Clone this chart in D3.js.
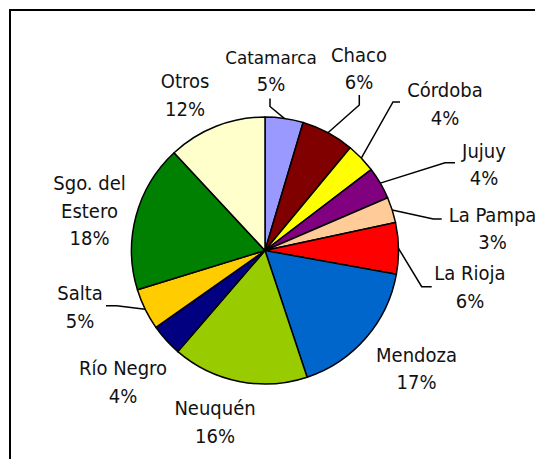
<!DOCTYPE html>
<html>
<head>
<meta charset="utf-8">
<script src="https://cdn.jsdelivr.net/npm/d3@7"></script>
<style>
  html, body { margin: 0; padding: 0; background: #fff; }
  svg { display: block; }
</style>
</head>
<body>
<svg id="chart" width="535" height="459"></svg>
<script>
// ---- data ----
const categories = ["Catamarca", "Chaco", "Córdoba", "Jujuy", "La Pampa", "La Rioja",
  "Mendoza", "Neuquén", "Río Negro", "Salta", "Sgo. del\nEstero", "Otros"];
const values = [4.6, 6.4, 3.6, 3.9, 3.1, 6.2, 17.0, 16.4, 3.9, 5.0, 17.8, 11.9];
const colors = ["#9999FF", "#800000", "#FFFF00", "#800080", "#FFCC99", "#FF0000",
  "#0066CC", "#99CC00", "#000080", "#FFCC00", "#008000", "#FFFFCC"];

// ---- layout (label anchor: centre x, first baseline y; leader points on label side) ----
const labelLayout = [
  { x: 271, y: 63.5, small: true, leader: [[270, 98.5], [270, 106.5]] },
  { x: 359, y: 61.7, leader: [[359.3, 95], [359.3, 105]] },
  { x: 445, y: 97.3, leader: [[400, 102], [393, 102]] },
  { x: 484, y: 157.5, leader: [[455, 162.7], [445, 162.7]] },
  { x: 492.5, y: 221.7, leader: [[441.7, 219], [433.3, 219]] },
  { x: 470, y: 280, leader: [[431.7, 286.7], [421.7, 286.7]] },
  { x: 416.5, y: 361.7 },
  { x: 215, y: 415 },
  { x: 123, y: 375 },
  { x: 80, y: 300, leader: [[106, 305.7], [116.7, 305.7]] },
  { x: 89.5, y: 190 },
  { x: 185, y: 88.3 }
];

const W = 535, H = 459;
const cx = 265, cy = 250.5, R = 133.5;
const lineH = 27.7;
const font = "'DejaVu Sans Condensed', 'DejaVu Sans', sans-serif";

const svg = d3.select("#chart");

// frame
svg.append("rect")
  .attr("x", 10).attr("y", 10)
  .attr("width", 700).attr("height", 700)
  .attr("fill", "none").attr("stroke", "#000").attr("stroke-width", 2);

const total = d3.sum(values);
const pie = d3.pie().sort(null).value(d => d)(values);
const arc = d3.arc().innerRadius(0).outerRadius(R);

const g = svg.append("g").attr("transform", `translate(${cx},${cy})`);

g.selectAll("path.slice")
  .data(pie)
  .join("path")
  .attr("class", "slice")
  .attr("d", arc)
  .attr("fill", (d, i) => colors[i])
  .attr("stroke", "#000")
  .attr("stroke-width", 1.5)
  .attr("stroke-linejoin", "round");

// leaders
pie.forEach((d, i) => {
  const L = labelLayout[i];
  if (!L.leader) return;
  const mid = (d.startAngle + d.endAngle) / 2;
  const ex = cx + R * Math.sin(mid), ey = cy - R * Math.cos(mid);
  const pts = L.leader.concat([[ex, ey]]);
  svg.append("path")
    .attr("d", d3.line()(pts))
    .attr("fill", "none")
    .attr("stroke", "#000")
    .attr("stroke-width", 1.5);
});

// labels
pie.forEach((d, i) => {
  const L = labelLayout[i];
  const nameLines = categories[i].split("\n");
  const pct = Math.round(values[i] / total * 100) + "%";
  const t = svg.append("text")
    .attr("text-anchor", "middle")
    .attr("fill", "#111")
    .attr("font-family", font)
    .attr("font-size", 20);
  nameLines.forEach((ln, k) => {
    const ts = t.append("tspan").attr("x", L.x).attr("y", L.y + k * lineH).text(ln);
    if (L.small) ts.attr("font-family", "'DejaVu Sans', sans-serif").attr("font-size", 16.8);
  });
  t.append("tspan").attr("x", L.x).attr("y", L.y + nameLines.length * lineH).text(pct);
});
</script>
</body>
</html>
